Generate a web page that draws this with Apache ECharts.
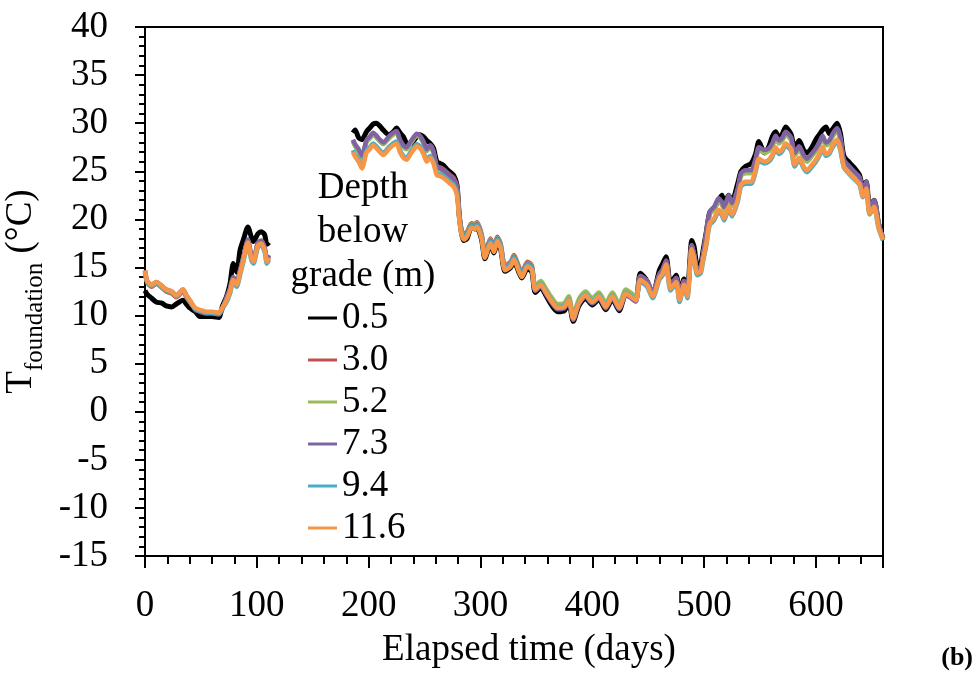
<!DOCTYPE html>
<html>
<head>
<meta charset="utf-8">
<script src="https://cdn.jsdelivr.net/npm/echarts@6/dist/echarts.min.js"></script>
<style>
  html, body { margin: 0; padding: 0; background: #fff; }
  #chart { width: 977px; height: 675px; }
</style>
</head>
<body>
<div id="chart"></div>
<script>
// elapsed days (null entry at 150 marks the gap in the record)
const days = [
  0, 2, 6, 10, 15, 19, 24, 28, 34, 37,
  40, 45, 49, 55, 60, 66, 69, 73, 76, 79,
  82, 85, 88, 92, 95, 97, 101, 104, 107, 109,
  111,
  150,
  186, 188, 191, 194, 198, 201, 204, 207, 210, 213,
  218, 222, 225, 228, 231, 234, 237, 240, 243, 246,
  249, 252, 255, 258, 261, 264, 267, 270, 273, 276,
  279, 281, 283, 285, 288, 292, 295, 297, 301, 304,
  307, 309, 312, 315, 318, 322, 327, 330, 334, 337,
  342, 346, 349, 354, 358, 363, 369, 375, 379, 383,
  388, 394, 400, 406, 412, 418, 424, 430, 434, 439,
  443, 449, 454, 460, 463, 466, 470, 475, 478, 482,
  485, 489, 491, 494, 497, 499, 502, 505, 509, 513,
  516, 518, 522, 525, 530, 533, 537, 542, 546, 549,
  554, 558, 561, 564, 567, 570, 573, 576, 578, 581,
  585, 589, 592, 596, 600, 603, 606, 609, 612, 615,
  619, 622, 625, 630, 634, 639, 642, 645, 648, 652,
  656, 660
];

const depth05 = [
  12.6, 12.2, 11.8, 11.4, 11.3, 11.0, 10.9, 11.2, 11.6, 11.2,
  10.8, 10.4, 9.9, 9.9, 9.9, 9.8, 10.9, 12.0, 13.3, 15.4,
  14.5, 16.8, 17.9, 19.2, 18.2, 17.7, 18.5, 18.7, 18.4, 17.4,
  17.6,
  null,
  29.0, 29.3, 28.5, 28.3, 29.1, 29.5, 29.9, 30.0, 29.7, 29.3,
  28.8, 29.1, 29.5, 29.0, 28.6, 27.9, 27.8, 28.1, 28.6, 28.8,
  28.6, 28.2, 27.9, 27.4, 26.0, 25.8, 25.6, 25.2, 24.9, 24.6,
  23.6, 20.5, 18.6, 17.8, 18.0, 19.2, 19.0, 19.1, 17.9, 15.9,
  16.9, 17.4, 16.5, 17.5, 16.9, 14.6, 15.0, 15.6, 14.6, 13.9,
  14.9, 14.5, 12.4, 12.9, 12.2, 11.2, 10.4, 10.5, 11.3, 9.4,
  11.0, 11.8, 11.1, 11.7, 10.6, 11.7, 10.5, 12.2, 12.0, 11.7,
  14.4, 13.6, 12.2, 14.7, 15.4, 16.1, 13.3, 14.2, 12.2, 13.8,
  12.6, 17.8, 17.2, 15.2, 15.4, 16.7, 18.7, 20.7, 21.2, 22.0,
  22.5, 21.7, 22.5, 21.9, 23.7, 25.0, 25.5, 25.8, 26.8, 28.1,
  26.9, 27.6, 28.6, 29.1, 28.4, 28.9, 29.6, 29.2, 28.8, 27.4,
  28.2, 27.2, 26.9, 27.4, 28.3, 28.8, 29.3, 29.6, 28.9, 29.4,
  30.0, 28.9, 26.6, 25.9, 25.4, 24.6, 23.4, 23.9, 21.4, 22.0,
  19.6, 18.0
];

const depth30 = [
  14.5, 13.4, 13.0, 13.3, 12.9, 12.5, 12.3, 11.9, 12.5, 11.9,
  11.4, 10.7, 10.5, 10.3, 10.3, 10.2, 10.7, 11.8, 12.7, 13.9,
  13.4, 14.6, 16.0, 17.8, 16.2, 15.8, 17.5, 17.7, 17.0, 15.8,
  16.2,
  null,
  28.2, 27.7, 27.2, 26.5, 28.1, 28.5, 28.9, 28.6, 28.2, 27.9,
  28.5, 28.9, 29.1, 28.2, 27.6, 27.4, 27.9, 28.4, 28.8, 28.6,
  28.0, 27.2, 27.6, 27.0, 25.5, 25.4, 25.2, 24.9, 24.6, 24.3,
  23.4, 20.5, 19.0, 18.4, 18.7, 19.6, 19.5, 19.7, 18.5, 16.5,
  17.5, 18.0, 17.1, 18.2, 17.5, 15.2, 15.6, 16.3, 15.2, 14.5,
  15.6, 15.2, 12.8, 13.3, 12.6, 11.7, 10.9, 11.0, 11.7, 9.8,
  11.4, 12.2, 11.5, 12.1, 11.0, 12.1, 10.9, 12.4, 12.1, 11.7,
  14.1, 13.6, 12.4, 14.3, 14.8, 15.7, 13.2, 13.9, 12.0, 13.6,
  12.4, 17.3, 16.4, 14.8, 15.0, 16.2, 18.5, 20.6, 21.1, 22.0,
  21.6, 21.1, 22.3, 21.5, 23.0, 24.6, 24.9, 24.9, 26.1, 27.3,
  27.0, 27.2, 27.7, 28.5, 28.0, 28.3, 28.9, 28.6, 28.3, 26.7,
  27.4, 26.5, 26.1, 26.6, 27.2, 27.8, 28.5, 27.8, 28.0, 28.7,
  29.3, 28.3, 26.1, 25.4, 24.9, 24.3, 23.0, 23.8, 21.2, 21.9,
  19.6, 18.0
];

const depth52 = [
  14.6, 13.5, 13.1, 13.4, 13.0, 12.6, 12.4, 12.0, 12.6, 12.0,
  11.5, 10.7, 10.5, 10.3, 10.3, 10.2, 10.7, 11.8, 12.7, 13.9,
  13.4, 14.6, 16.0, 17.8, 16.2, 15.8, 17.5, 17.7, 17.0, 15.8,
  16.2,
  null,
  28.1, 27.6, 27.1, 26.4, 28.0, 28.4, 28.8, 28.5, 28.1, 27.8,
  28.4, 28.8, 29.0, 28.1, 27.5, 27.3, 27.8, 28.3, 28.7, 28.5,
  27.9, 27.1, 27.5, 26.9, 25.3, 25.2, 25.0, 24.7, 24.4, 24.1,
  23.2, 20.4, 18.9, 18.3, 18.6, 19.5, 19.4, 19.6, 18.4, 16.4,
  17.4, 17.9, 17.0, 18.1, 17.4, 15.1, 15.5, 16.2, 15.1, 14.4,
  15.5, 15.1, 13.1, 13.6, 12.9, 12.0, 11.2, 11.3, 12.0, 10.1,
  11.7, 12.5, 11.8, 12.4, 11.3, 12.4, 11.2, 12.7, 12.4, 12.0,
  14.0, 13.5, 12.3, 14.2, 14.7, 15.6, 13.1, 13.8, 11.9, 13.5,
  12.3, 17.2, 16.3, 14.7, 14.9, 16.1, 18.4, 20.5, 21.0, 21.9,
  21.5, 21.0, 22.2, 21.4, 22.9, 24.5, 24.8, 24.8, 26.0, 27.2,
  26.9, 27.1, 27.6, 28.4, 27.9, 28.2, 28.8, 28.5, 28.2, 26.6,
  27.3, 26.4, 26.0, 26.5, 27.1, 27.7, 28.4, 27.7, 27.9, 28.6,
  29.2, 28.2, 26.0, 25.3, 24.8, 24.2, 22.9, 23.7, 21.1, 21.8,
  19.5, 18.0
];

const depth73 = [
  14.7, 13.6, 13.2, 13.5, 13.1, 12.7, 12.5, 12.1, 12.7, 12.1,
  11.6, 10.6, 10.4, 10.2, 10.2, 10.1, 10.6, 11.9, 12.8, 14.0,
  13.5, 14.7, 16.1, 17.9, 16.3, 15.9, 17.6, 17.8, 17.1, 15.9,
  16.3,
  null,
  28.3, 27.8, 27.3, 26.6, 28.2, 28.6, 29.0, 28.7, 28.3, 28.0,
  28.6, 29.0, 29.2, 28.3, 27.7, 27.5, 28.0, 28.5, 28.9, 28.7,
  28.1, 27.3, 27.7, 27.1, 25.4, 25.3, 25.1, 24.8, 24.5, 24.2,
  23.3, 20.3, 18.8, 18.2, 18.5, 19.4, 19.3, 19.5, 18.3, 16.3,
  17.3, 17.8, 16.9, 18.0, 17.3, 15.0, 15.4, 16.1, 15.0, 14.3,
  15.4, 15.0, 12.55, 13.05, 12.35, 11.45, 10.65, 10.75, 11.45, 9.55,
  11.15, 11.95, 11.25, 11.85, 10.75, 11.85, 10.65, 12.15, 11.85, 11.45,
  14.1, 13.6, 12.4, 14.3, 14.8, 15.7, 13.2, 13.9, 12.0, 13.6,
  12.4, 17.3, 16.4, 14.8, 15.0, 16.2, 18.7, 20.8, 21.3, 22.2,
  21.8, 21.3, 22.5, 21.7, 23.2, 24.8, 25.1, 25.1, 26.3, 27.5,
  27.2, 27.4, 27.9, 28.7, 28.2, 28.5, 29.1, 28.8, 28.5, 26.9,
  27.6, 26.7, 26.3, 26.8, 27.4, 28.0, 28.7, 28.0, 28.2, 28.9,
  29.5, 28.5, 26.2, 25.5, 25.0, 24.4, 23.1, 23.9, 21.3, 22.0,
  19.6, 18.0
];

const depth94 = [
  14.6, 13.5, 13.1, 13.4, 13.0, 12.6, 12.4, 12.0, 12.6, 12.0,
  11.5, 10.7, 10.5, 10.3, 10.3, 10.2, 10.7, 11.4, 12.3, 13.5,
  13.0, 14.2, 15.6, 17.4, 15.8, 15.4, 17.1, 17.3, 16.6, 15.4,
  15.8,
  null,
  27.2, 26.7, 26.2, 25.5, 27.1, 27.5, 27.9, 27.6, 27.2, 26.9,
  27.5, 27.9, 28.1, 27.2, 26.6, 26.4, 26.9, 27.4, 27.8, 27.6,
  27.0, 26.2, 26.6, 26.0, 24.8, 24.7, 24.5, 24.2, 23.9, 23.6,
  22.7, 20.2, 18.7, 18.1, 18.4, 19.3, 19.2, 19.4, 18.2, 16.2,
  17.2, 17.7, 16.8, 17.9, 17.2, 14.9, 15.3, 16.0, 14.9, 14.2,
  15.3, 14.9, 12.8, 13.3, 12.6, 11.7, 10.9, 11.0, 11.7, 9.8,
  11.4, 12.2, 11.5, 12.1, 11.0, 12.1, 10.9, 12.4, 12.1, 11.7,
  13.5, 13.0, 11.8, 13.7, 14.2, 15.1, 12.6, 13.3, 11.4, 13.0,
  11.8, 16.7, 15.8, 14.2, 14.4, 15.6, 17.3, 19.4, 19.9, 20.8,
  20.4, 19.9, 21.1, 20.3, 21.8, 23.4, 23.7, 23.7, 24.9, 26.1,
  25.8, 26.0, 26.5, 27.3, 26.8, 27.1, 27.7, 27.4, 27.1, 25.5,
  26.2, 25.3, 24.9, 25.4, 26.0, 26.6, 27.3, 26.6, 26.8, 27.5,
  28.1, 27.1, 25.4, 24.7, 24.2, 23.6, 22.3, 23.1, 20.5, 21.2,
  19.1, 17.8
];

const depth116 = [
  14.7, 13.6, 13.2, 13.5, 13.1, 12.7, 12.5, 12.1, 12.7, 12.1,
  11.6, 10.8, 10.6, 10.4, 10.4, 10.3, 10.8, 11.6, 12.5, 13.7,
  13.2, 14.4, 15.8, 17.6, 16.0, 15.6, 17.3, 17.5, 16.8, 15.6,
  16.0,
  null,
  27.0, 26.5, 26.0, 25.3, 26.9, 27.3, 27.7, 27.4, 27.0, 26.7,
  27.3, 27.7, 27.9, 27.0, 26.4, 26.2, 26.7, 27.2, 27.6, 27.4,
  26.8, 26.0, 26.4, 25.8, 24.6, 24.5, 24.3, 24.0, 23.7, 23.4,
  22.5, 20.0, 18.5, 17.9, 18.2, 19.1, 19.0, 19.2, 18.0, 16.0,
  17.0, 17.5, 16.6, 17.7, 17.0, 14.7, 15.1, 15.8, 14.7, 14.0,
  15.1, 14.7, 12.7, 13.2, 12.5, 11.6, 10.8, 10.9, 11.6, 9.7,
  11.3, 12.1, 11.4, 12.0, 10.9, 12.0, 10.8, 12.3, 12.0, 11.6,
  13.7, 13.2, 12.0, 13.9, 14.4, 15.3, 12.8, 13.5, 11.6, 13.2,
  12.0, 16.9, 16.0, 14.4, 14.6, 15.8, 17.5, 19.6, 20.1, 21.0,
  20.6, 20.1, 21.3, 20.5, 22.0, 23.6, 23.9, 23.9, 25.1, 26.3,
  26.0, 26.2, 26.7, 27.5, 27.0, 27.3, 27.9, 27.6, 27.3, 25.7,
  26.4, 25.5, 25.1, 25.6, 26.2, 26.8, 27.5, 26.8, 27.0, 27.7,
  28.3, 27.3, 25.5, 24.8, 24.3, 23.7, 22.4, 23.2, 20.6, 21.3,
  19.2, 17.9
];

const seriesNames = ['0.5', '3.0', '5.2', '7.3', '9.4', '11.6'];
const seriesValues = [depth05, depth30, depth52, depth73, depth94, depth116];
const seriesColors = ['#000000', '#c0504d', '#9bbb59', '#8064a2', '#4bacc6', '#f79646'];

const FONT = "'Liberation Serif', 'Times New Roman', serif";

const chart = echarts.init(document.getElementById('chart'));

chart.setOption({
  animation: false,
  backgroundColor: '#ffffff',
  textStyle: { fontFamily: FONT, color: '#000' },
  title: {
    text: 'Depth\nbelow\ngrade (m)',
    left: 358,
    top: 161,
    textAlign: 'center',
    textStyle: {
      fontFamily: FONT,
      fontSize: 37,
      fontWeight: 'normal',
      color: '#000',
      lineHeight: 44,
      align: 'center'
    }
  },
  legend: {
    data: seriesNames,
    orient: 'vertical',
    left: 308,
    top: 297,
    padding: 0,
    itemGap: 0,
    itemWidth: 29,
    itemHeight: 3,
    icon: 'rect',
    textStyle: { fontFamily: FONT, fontSize: 37, color: '#000', lineHeight: 42 }
  },
  grid: {
    left: 145,
    right: 94,
    top: 27,
    bottom: 119,
    containLabel: false,
    outerBoundsMode: 'none',
    show: true,
    borderColor: '#000',
    borderWidth: 2
  },
  xAxis: {
    type: 'value',
    min: 0,
    max: 660,
    interval: 100,
    name: 'Elapsed time (days)',
    nameLocation: 'middle',
    nameGap: 76,
    nameTextStyle: { fontFamily: FONT, fontSize: 37, color: '#000', padding: [0, 0, 0, 30] },
    axisLine: { onZero: false, lineStyle: { color: '#000', width: 2 } },
    axisTick: { length: 12, lineStyle: { color: '#000', width: 2 } },
    minorTick: { show: true, splitNumber: 5, length: 8, lineStyle: { color: '#000', width: 2 } },
    splitLine: { show: false },
    axisLabel: { fontFamily: FONT, fontSize: 37, color: '#000', margin: 32, showMaxLabel: false }
  },
  yAxis: {
    type: 'value',
    min: -15,
    max: 40,
    interval: 5,
    name: '{t|T}{s|foundation}{t| (°C)}',
    nameLocation: 'middle',
    nameRotate: 90,
    nameGap: 99,
    nameTextStyle: {
      rich: {
        t: { fontFamily: FONT, fontSize: 37, color: '#000', lineHeight: 44, verticalAlign: 'bottom' },
        s: { fontFamily: FONT, fontSize: 25, color: '#000', lineHeight: 44, verticalAlign: 'bottom', padding: [0, 0, -8, 0] }
      }
    },
    axisLine: { onZero: false, lineStyle: { color: '#000', width: 2 } },
    axisTick: { length: 10, lineStyle: { color: '#000', width: 2 } },
    minorTick: { show: true, splitNumber: 5, length: 6, lineStyle: { color: '#000', width: 2 } },
    splitLine: { show: false },
    axisLabel: { fontFamily: FONT, fontSize: 37, color: '#000', margin: 37 }
  },
  graphic: [
    {
      type: 'text',
      right: 4,
      top: 645,
      style: { text: '(b)', fontFamily: FONT, fontSize: 26, fontWeight: 'bold', fill: '#000' }
    }
  ],
  series: seriesNames.map((name, k) => ({
    type: 'line',
    name: name,
    data: days.map((d, i) => [d, seriesValues[k][i]]),
    color: seriesColors[k],
    showSymbol: false,
    symbol: 'none',
    smooth: 0.25,
    connectNulls: false,
    lineStyle: { width: k === 0 ? 5 : 4.5 }
  }))
});
</script>
</body>
</html>
